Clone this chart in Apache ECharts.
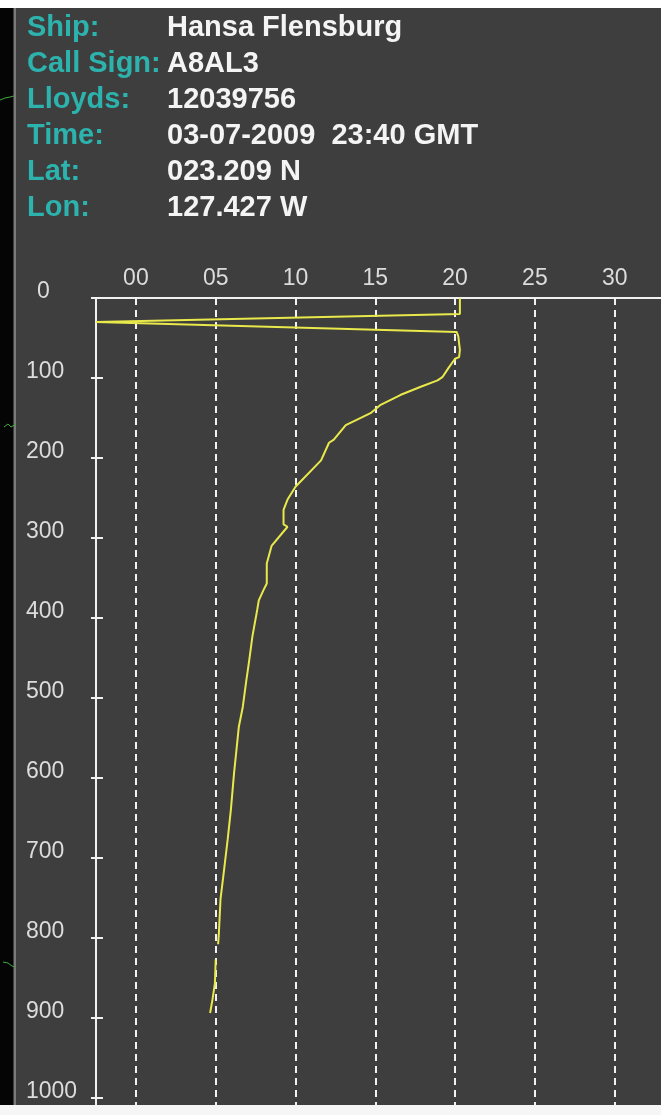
<!DOCTYPE html>
<html>
<head>
<meta charset="utf-8">
<script src="https://cdn.jsdelivr.net/npm/echarts@6/dist/echarts.min.js"></script>
<style>
html,body{margin:0;padding:0;background:#ffffff;}
#chart{width:661px;height:1115px;}
</style>
</head>
<body>
<div id="chart"></div>
<script>
// Header information
const headerLabels = ['Ship:', 'Call Sign:', 'Lloyds:', 'Time:', 'Lat:', 'Lon:'];
const headerValues = ['Hansa Flensburg', 'A8AL3', '12039756', '03-07-2009  23:40 GMT', '023.209 N', '127.427 W'];

// Axis ticks
const xTicks = [0, 5, 10, 15, 20, 25, 30];
const yTicks = [0, 100, 200, 300, 400, 500, 600, 700, 800, 900, 1000];

// Profile: depth (m) and temperature (°C); null marks the gap in the trace
const depths = [0, 20, 30, 31, 42.5, 48, 65, 74, 76, 80, 87, 99, 103, 111, 121, 134, 144, 159, 177, 181, 203, 236, 252, 265, 283, 286, 310, 332, 357, 365, 378, 390, 423, 453, 481, 511, 536, 594, 640, 677, 719, 752, 794, 808, null, 827, 857, 877, 894];
const temps  = [20.3, 20.3, -2.5, -2.5, 20.1, 20.2, 20.3, 20.25, 20.0, 19.85, 19.6, 19.2, 18.9, 17.85, 16.6, 15.3, 14.7, 13.15, 12.4, 12.1, 11.6, 10.0, 9.5, 9.25, 9.25, 9.5, 8.5, 8.2, 8.2, 8.0, 7.7, 7.6, 7.3, 7.1, 6.9, 6.7, 6.45, 6.15, 5.95, 5.75, 5.5, 5.3, 5.2, 5.15, null, 5.0, 4.95, 4.8, 4.65];

const profile = depths.map((d, i) => (d === null || temps[i] === null) ? [null, null] : [temps[i], d]);

const BG = '#3e3e3e';
const LABEL_COLOR = '#2db3ae';
const VALUE_COLOR = '#f4f4f4';
const AXIS_COLOR = '#f0f0f0';
const TICK_TEXT = '#dcdcdc';

const chart = echarts.init(document.getElementById('chart'), null, {renderer: 'canvas'});

const rowY0 = 28, rowStep = 36;
const headFont = 'bold 29px "Liberation Sans", Arial, sans-serif';
const graphics = [];
// frame decorations
graphics.push({type: 'rect', shape: {x: 0, y: 0, width: 661, height: 8}, style: {fill: '#ffffff'}, z: 100});
graphics.push({type: 'rect', shape: {x: 0, y: 8, width: 13, height: 1097}, style: {fill: '#050505'}, z: 100});
graphics.push({type: 'rect', shape: {x: 14, y: 8, width: 2, height: 1097}, style: {fill: '#7a7a7a'}, z: 100});
graphics.push({type: 'rect', shape: {x: 0, y: 1105, width: 661, height: 10}, style: {fill: '#f6f6f6'}, z: 100});
graphics.push({type: 'polyline', shape: {points: [[0, 100], [5, 98], [10, 97], [14, 96]]}, style: {stroke: '#3caa3c', lineWidth: 1, fill: null}, z: 101});
graphics.push({type: 'polyline', shape: {points: [[4, 427], [8, 424], [11, 427], [16, 424]]}, style: {stroke: '#3caa3c', lineWidth: 1, fill: null}, z: 101});
graphics.push({type: 'polyline', shape: {points: [[3, 962], [8, 963], [12, 966], [15, 967]]}, style: {stroke: '#3caa3c', lineWidth: 1, fill: null}, z: 101});

headerLabels.forEach((t, i) => {
  graphics.push({
    type: 'text', x: 27, y: rowY0 + i * rowStep, z: 100,
    style: {text: t, fill: LABEL_COLOR, font: headFont, verticalAlign: 'middle', align: 'left'}
  });
  graphics.push({
    type: 'text', x: 167, y: rowY0 + i * rowStep, z: 100,
    style: {text: headerValues[i], fill: VALUE_COLOR, font: headFont, verticalAlign: 'middle', align: 'left'}
  });
});

const tickFont = {fontFamily: '"Liberation Sans", Arial, sans-serif', fontSize: 23, color: TICK_TEXT};

const option = {
  backgroundColor: BG,
  animation: false,
  grid: {left: 96, top: 298, right: 0, bottom: 10, containLabel: false},
  xAxis: {
    type: 'value', position: 'top', min: -2.5, max: 32.9,
    axisLine: {show: true, onZero: false, lineStyle: {color: AXIS_COLOR, width: 2}},
    axisTick: {show: false},
    splitLine: {show: false},
    axisLabel: {
      show: true, customValues: xTicks, margin: 8,
      formatter: v => String(v).padStart(2, '0'),
      ...tickFont
    }
  },
  yAxis: [
    {
      type: 'value', inverse: true, min: 0, max: 1009, position: 'left',
      axisLine: {show: true, onZero: false, lineStyle: {color: AXIS_COLOR, width: 2}},
      axisTick: {show: true, customValues: yTicks, length: 5, inside: false, lineStyle: {color: AXIS_COLOR, width: 2}},
      splitLine: {show: false},
      axisLabel: {
        show: true, customValues: yTicks, margin: 70, align: 'left',
        padding: [0, 0, 12, 0],
        formatter: v => v === 0 ? '{z|0}' : String(v),
        rich: {z: {padding: [0, 0, 0, 11], fontSize: 23, fontFamily: '"Liberation Sans", Arial, sans-serif', color: TICK_TEXT}},
        ...tickFont
      }
    },
    {
      type: 'value', inverse: true, min: 0, max: 1009, position: 'left',
      axisLine: {show: false, onZero: false},
      axisTick: {show: true, customValues: yTicks, length: 7, inside: true, lineStyle: {color: AXIS_COLOR, width: 2}},
      splitLine: {show: false},
      axisLabel: {show: false}
    }
  ],
  series: [
    {
      type: 'line',
      data: profile,
      showSymbol: false,
      symbol: 'none',
      connectNulls: false,
      clip: true,
      lineStyle: {color: '#e9e94c', width: 2},
      z: 5,
      markLine: {
        silent: true,
        symbol: ['none', 'none'],
        label: {show: false},
        lineStyle: {color: '#f2f2f2', width: 2, type: [7, 5]},
        emphasis: {disabled: true},
        data: xTicks.map(v => ({xAxis: v}))
      }
    }
  ],
  graphic: graphics
};

chart.setOption(option);
</script>
</body>
</html>
